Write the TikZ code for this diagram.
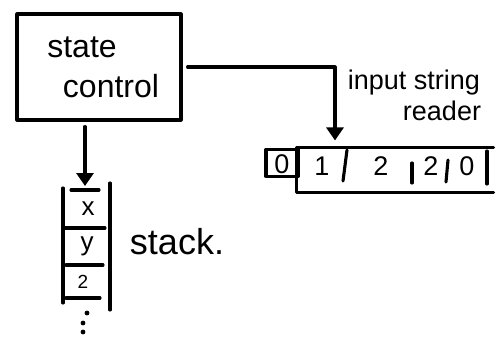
\documentclass[tikz,border=0pt]{standalone}
\usepackage{fontspec}
\setmainfont{Liberation Sans}
\usetikzlibrary{arrows.meta}
\begin{document}
\begin{tikzpicture}[x=1pt,y=-1pt,line width=3.1pt,line cap=round,line join=round,
  lbl/.style={inner sep=0pt,font=\fontsize{#1}{#1}\selectfont},
  lbl/.default=24,
  arr/.style={-{Triangle[width=17pt,length=13pt]}},
  box/.style={draw,rectangle,inner sep=0pt}]
\useasboundingbox (0,0) rectangle (496,337);
% state control box
\node[box,minimum width=164pt,minimum height=106pt] (ctrl) at (99,67) {};
\node[lbl=32] (state) at (82,47) {state};
\node[lbl=32] (control) at (111,86) {control};
% tape
\node[box,minimum width=32pt,minimum height=27pt] (c0) at (282,163) {};
\node[rectangle,inner sep=0pt,minimum width=194pt,minimum height=42pt] (tape) at (395,170) {};
\draw (tape.north east) -- (tape.north west) -- (tape.south west) -- (tape.south east);
\coordinate (bend) at (335,70);
\draw[arr,shorten <=5pt,shorten >=7pt] (ctrl.east) -- (ctrl.east -| bend) -- (bend |- tape.north);
\node[lbl=27] (input) at (414,83) {input string};
\node[lbl=27] (reader) at (442,111) {reader};
\node[lbl=27] (t0) at (282,164) {0};
\node[lbl=27] (t1) at (322,166) {1};
\node[lbl=27] (t2) at (381,166) {2};
\node[lbl=27] (t3) at (431,166) {2};
\node[lbl=27] (t4) at (467,166) {0};
\draw (347,150) -- (343,181);
\draw (412,163) -- (412,183);
\draw (448,160) -- (446,182);
\draw (487,151) -- (487,184);
% stack
\coordinate (stop) at (85,186);
\draw[arr,shorten <=5pt] (ctrl.south -| stop) -- (stop);
\draw (63,188) -- (63,303);
\draw (110,183) -- (110,310);
\draw (71,190) -- (99,190);
\draw (63,228) -- (105,228);
\draw (66,265) -- (103,265);
\draw (66,298) -- (100,298);
\node[lbl=26] (sx) at (88,209) {x};
\node[lbl=26] (sy) at (87,246) {y};
\node[lbl=19] (s2) at (83,282) {2};
\fill (87,313) circle (2.4pt) (83,323) circle (2.4pt) (83,332) circle (2.4pt);
\node[lbl=36] (stack) at (177,242) {stack.};
\end{tikzpicture}
\end{document}
